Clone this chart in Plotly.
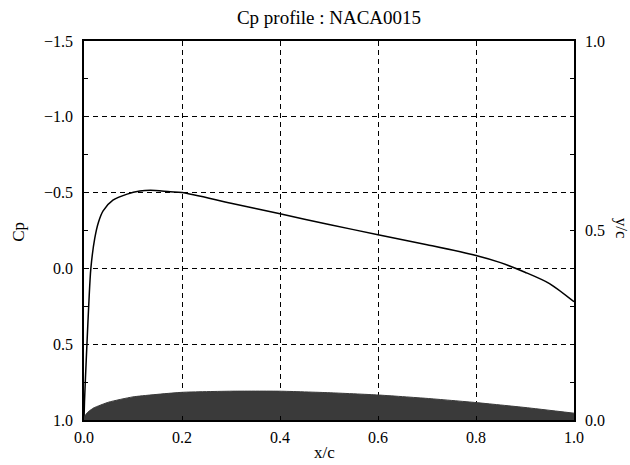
import plotly.graph_objects as go

# Cp distribution (upper surface)
cp_x = [0.0, 0.001, 0.003, 0.006, 0.01, 0.014, 0.022, 0.03, 0.039, 0.059, 0.088, 0.114,
        0.136, 0.176, 0.2, 0.3, 0.4, 0.5, 0.6, 0.7, 0.8, 0.85, 0.9, 0.95, 1.0]
cp_y = [1.0, 0.88, 0.72, 0.5, 0.22, 0.0, -0.2, -0.31, -0.38, -0.45, -0.49, -0.51,
        -0.515, -0.505, -0.5, -0.43, -0.36, -0.29, -0.222, -0.156, -0.085, -0.038, 0.025, 0.10, 0.22]

# airfoil upper half (y/c)
af_x = [0.0, 0.002, 0.005, 0.01, 0.02, 0.05, 0.1, 0.2, 0.3, 0.4, 0.5, 0.6, 0.7, 0.8, 0.9, 1.0]
af_y = [0.0, 0.010, 0.017, 0.023, 0.032, 0.047, 0.061, 0.073, 0.076, 0.076, 0.072, 0.066,
        0.057, 0.046, 0.033, 0.018]

cp_ticks = [-1.5, -1.0, -0.5, 0.0, 0.5, 1.0]
cp_ticktext = ["\u22121.5", "\u22121.0", "\u22120.5", "0.0", "0.5", "1.0"]
x_ticks = [0.0, 0.2, 0.4, 0.6, 0.8, 1.0]
x_ticktext = ["0.0", "0.2", "0.4", "0.6", "0.8", "1.0"]
yc_ticks = [0.0, 0.5, 1.0]
yc_ticktext = ["0.0", "0.5", "1.0"]

FONT = "'Liberation Serif', 'Times New Roman', serif"

fig = go.Figure()
fig.add_trace(go.Scatter(x=af_x, y=af_y, yaxis="y2", mode="lines", fill="tozeroy",
                         fillcolor="#3a3a3a", line=dict(color="#3a3a3a", width=1, shape="spline", smoothing=0.5),
                         showlegend=False, hoverinfo="skip"))
fig.add_trace(go.Scatter(x=cp_x, y=cp_y, mode="lines",
                         line=dict(color="black", width=1.5, shape="spline", smoothing=0.8),
                         showlegend=False))

axis_common = dict(showline=True, linecolor="black", linewidth=1.5, mirror=True,
                   ticks="inside", ticklen=4, tickcolor="black", zeroline=False,
                   tickfont=dict(family=FONT, size=16, color="black"))

fig.update_layout(
    width=630, height=465,
    margin=dict(l=84, r=56, t=41, b=45),
    paper_bgcolor="white", plot_bgcolor="white",
    font=dict(family=FONT, color="black"),
    title=dict(text="Cp profile : NACA0015", x=0.5, xref="paper", y=0.963, yref="container",
               xanchor="center", yanchor="middle",
               font=dict(family=FONT, size=19, color="black")),
    xaxis=dict(range=[0, 1], tickvals=x_ticks, ticktext=x_ticktext,
               showgrid=True, gridcolor="black", griddash="5px,4px", gridwidth=0.8,
               ticklabelstandoff=2,
               **axis_common),
    yaxis=dict(range=[1.0, -1.5], tickvals=cp_ticks, ticktext=cp_ticktext,
               showgrid=True, gridcolor="black", griddash="5px,4px", gridwidth=0.8,
               minor=dict(tickvals=[-1.25, -0.75, -0.25, 0.25, 0.75], ticks="inside",
                          ticklen=4, tickcolor="black"),
               ticklabelstandoff=6,
               **axis_common),
    yaxis2=dict(range=[0, 1], overlaying="y", side="right", anchor="x",
                tickvals=yc_ticks, ticktext=yc_ticktext, showgrid=False,
                minor=dict(tickvals=[0.1, 0.3, 0.7, 0.9], ticks="inside",
                           ticklen=4, tickcolor="black"),
                ticklabelstandoff=6,
                **axis_common),
    annotations=[
        dict(text="x/c", xref="paper", yref="paper", x=0.49, y=-0.087, showarrow=False,
             xanchor="center", yanchor="middle", font=dict(family=FONT, size=17, color="black")),
        dict(text="Cp", xref="paper", yref="paper", x=-0.135, y=0.496, showarrow=False,
             textangle=-90, xanchor="center", yanchor="middle",
             font=dict(family=FONT, size=17, color="black")),
        dict(text="y/c", xref="paper", yref="paper", x=1.096, y=0.507, showarrow=False,
             textangle=90, xanchor="center", yanchor="middle",
             font=dict(family=FONT, size=17, color="black")),
    ],
)

fig.write_html("out.html")
